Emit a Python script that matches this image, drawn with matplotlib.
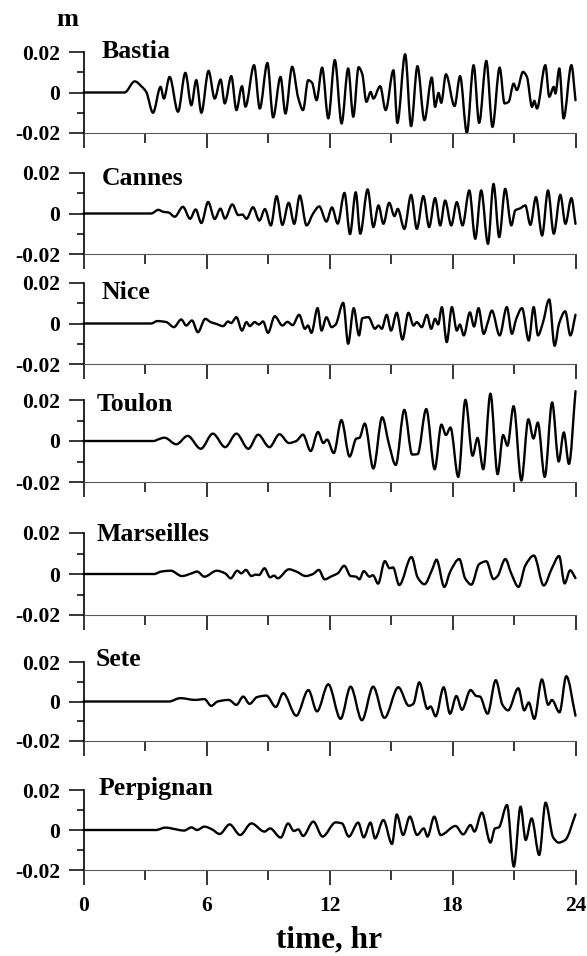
import numpy as np
import matplotlib
matplotlib.use('Agg')
import matplotlib.pyplot as plt
from matplotlib.path import Path
from matplotlib.patches import PathPatch

plt.rcParams['font.family'] = ['Liberation Serif', 'DejaVu Serif']
plt.rcParams['font.weight'] = 'bold'

# ---- data: (time [hr], sea level [mm]) ----
bastia = [(0, 0), (2.0, 0), (2.5, 5.5), (2.85, 2.8), (3.06, 0.3), (3.39, -10), (3.76, 2.8), (3.92, -3),
          (4.2, 7.7), (4.61, -9.5), (4.97, 9.7), (5.26, -6.3), (5.5, 6.1), (5.75, -10), (6.1, 10.7),
          (6.4, -3), (6.69, 6.4), (6.89, -5.4), (7.21, 8.1), (7.46, -8.7), (7.73, 3.1), (7.9, -7),
          (8.32, 13.5), (8.6, -7.9), (8.97, 14.6), (9.25, -12.3), (9.61, 7.7), (9.85, -10.4),
          (10.18, 12.7), (10.47, -2.5), (10.71, -8.7), (10.96, 6.1), (11.15, 4.8), (11.37, -3.8),
          (11.64, 12.3), (11.94, -12.8), (12.26, 16), (12.59, -15.3), (12.91, 11.9), (13.16, -12),
          (13.42, 12.5), (13.6, 9), (13.8, -4.6), (14.01, 0.3), (14.14, -3), (14.47, 3.1),
          (14.74, -8.7), (15.12, 11), (15.31, -15), (15.69, 18.9), (15.98, -16.6), (16.29, 13),
          (16.63, -13.7), (16.99, 7.4), (17.15, -7.1), (17.32, -0.2), (17.45, -5.1), (17.68, 9),
          (18.1, -6.7), (18.37, 8.1), (18.7, -19.9), (19.03, 13.5), (19.3, -15), (19.65, 15.6),
          (19.95, -17), (20.3, 12.3), (20.54, -5.4), (20.74, -4.6), (20.98, 4.4), (21.14, 1.2),
          (21.44, 10.2), (21.63, 7.7), (21.88, -7.1), (21.99, -4.1), (22.12, -7.9), (22.53, 13.5),
          (22.72, -2.1), (22.94, 2.8), (23.02, -0.5), (23.21, 11.9), (23.42, -12.8), (23.8, 13.5),
          (24.0, -3.8)]

cannes = [(0, 0), (3.3, 0), (3.65, 1.8), (3.9, 0.8), (4.15, 0.5), (4.45, -1.6), (4.85, 3.3), (5.2, -2.6),
          (5.47, 2), (5.75, -4.7), (6.08, 5.7), (6.4, -2.7), (6.68, 2.4), (6.9, -2.5), (7.26, 4.5),
          (7.55, -0.8), (7.75, -0.5), (7.95, -2.6), (8.27, 3.1), (8.58, -3.5), (8.85, 2.2), (9.14, -5.9),
          (9.42, 8.6), (9.7, -5.6), (10.01, 5.3), (10.28, -5.1), (10.55, 8.9), (10.88, -5.9), (11.2, 0),
          (11.5, 3.5), (11.85, -4), (12.12, 3), (12.4, -5), (12.73, 10.2), (13.0, -10.2), (13.28, 10.5),
          (13.5, -10), (13.86, 11.9), (14.14, -6.7), (14.39, 4), (14.63, -5.1), (14.91, 5.3),
          (15.17, -1.3), (15.33, 2.3), (15.65, -7.6), (15.98, 9.2), (16.26, -7.6), (16.58, 8.6),
          (16.86, -6.7), (17.15, 7.6), (17.4, -5.9), (17.64, 6.4), (17.94, -5.9), (18.21, 5.6),
          (18.49, -5.9), (18.82, 11.4), (19.11, -12.5), (19.4, 11.4), (19.73, -15), (20.0, 14.6),
          (20.28, -11.7), (20.57, 12.2), (20.87, -5.9), (21.06, 1.5), (21.31, 2.6), (21.55, 4),
          (21.8, -5.6), (22.07, 8.1), (22.37, -10.9), (22.66, 11.4), (22.94, -10), (23.26, 9.2),
          (23.51, -5.1), (23.8, 7.6), (24.0, -5.1)]

nice = [(0, 0), (3.3, 0), (3.6, 1.2), (4.04, 0.7), (4.41, -1.8), (4.77, 2), (5.01, -1), (5.29, 1.5),
        (5.58, -4.3), (5.94, 2.3), (6.2, 0.7), (6.48, -0.2), (6.81, -1.3), (7.05, 1), (7.2, 0.2),
        (7.46, 3.1), (7.73, -3.5), (7.95, 0.7), (8.11, -1.3), (8.35, 0.7), (8.55, -0.5), (8.76, 1),
        (9.0, -4.6), (9.33, 3.6), (9.7, -1), (9.95, 0.8), (10.2, -0.8), (10.52, 4.3), (10.8, -2.6),
        (10.95, -1), (11.12, -4.6), (11.42, 7.6), (11.61, -3.5), (11.85, 3.1), (12.1, -1.8),
        (12.3, -0.5), (12.67, 10.2), (12.91, -10), (13.18, 7.6), (13.44, -5.9), (13.6, 2.6),
        (13.9, 3.1), (14.22, -2.6), (14.39, -1), (14.55, -2.6), (14.79, 4.3), (15.0, -3.5),
        (15.28, 5.3), (15.56, -7.9), (15.85, 5.3), (16.1, -1), (16.26, 0.7), (16.5, -1.8),
        (16.75, 4.3), (16.96, -2.6), (17.15, 2.3), (17.3, -0.5), (17.48, 8.1), (17.72, -9.2),
        (17.97, 8.1), (18.21, -3.5), (18.36, -0.5), (18.55, -5.9), (18.85, 5.5), (19.05, -1.5),
        (19.27, 7.6), (19.52, -5.1), (19.72, 0.5), (19.92, 6.4), (20.3, -5.9), (20.65, 8.1),
        (20.9, -5.1), (21.1, 2), (21.39, 7.6), (21.72, -8.4), (21.96, 8.1), (22.17, -5.9), (22.4, 0),
        (22.72, 11.9), (22.98, -11), (23.2, 0), (23.5, 6), (23.75, -5.9), (24.0, 4.3)]

toulon = [(0, 0), (3.44, 0), (3.62, 0.7), (3.95, 1.6), (4.53, -1.6), (5.08, 2.5), (5.72, -3.8),
          (6.31, 3.6), (6.91, -3), (7.46, 3.6), (8.04, -3.8), (8.52, 3.1), (9.07, -3), (9.56, 3.3),
          (10.02, -1), (10.38, 0), (10.71, 3.1), (11.08, -4.9), (11.44, 4.4), (11.7, -1), (11.88, 0.7),
          (12.21, -5.9), (12.58, 10.2), (12.98, -7.6), (13.31, 1.2), (13.46, 1.5), (13.72, 8.5),
          (14.14, -13.4), (14.57, 11.6), (14.9, -1.5), (15.23, -11.7), (15.65, 15.2), (16.03, -6.6),
          (16.3, -6.4), (16.72, 15.6), (17.13, -13.8), (17.46, 8), (17.68, 2.9), (17.9, 6.6),
          (18.28, -17.5), (18.63, 20.1), (18.98, -7.2), (19.22, 1.5), (19.5, -13.8), (19.85, 23.1),
          (20.2, -16.2), (20.47, 2.9), (20.68, -2.3), (20.98, 17), (21.36, -19.3), (21.7, 10.6),
          (21.95, 1.2), (22.16, 9), (22.5, -17.5), (22.86, 18.8), (23.18, -10), (23.43, 4.2),
          (23.68, -11.2), (24.0, 24.3)]

marseilles = [(0, 0), (3.44, 0), (3.8, 1.2), (4.26, 1.6), (4.8, -1), (5.27, 0.3), (5.54, 1.2), (5.9, -1.3),
              (6.5, 1.6), (6.91, 0.3), (7.18, -2.1), (7.5, 1.6), (7.7, 0.3), (7.92, 2), (8.19, -1),
              (8.4, -0.3), (8.56, -0.5), (8.83, 2.8), (9.1, -1.6), (9.3, -0.8), (9.47, -2.1), (10.02, 2.3),
              (10.38, 1.2), (10.84, -1), (11.2, 0), (11.48, 2), (11.76, -2.6), (12.12, -1), (12.4, 0.3),
              (12.72, 4), (13.03, -1), (13.3, -1.3), (13.46, -2.6), (13.67, 1.4), (13.95, -1.3),
              (14.12, -0.6), (14.37, -4.7), (14.7, 6.3), (14.93, 2.8), (15.1, 3.2), (15.4, -5.4),
              (16.0, 8.3), (16.3, -1.7), (16.63, -5), (17.02, 2.5), (17.22, 7), (17.6, -6.3),
              (17.89, 1.2), (18.33, 7.3), (18.62, -2.2), (18.92, -5.2), (19.3, 4.8), (19.65, 6.2),
              (20.0, -2.5), (20.2, -1), (20.58, 7.3), (20.86, 0.4), (21.22, -6.3), (21.55, 4.1),
              (21.97, 9), (22.45, -5.6), (22.85, 2.8), (23.2, 8.8), (23.47, -4.6), (23.74, 1.8),
              (24.0, -2)]

sete = [(0, 0), (4.17, 0), (4.72, 1.7), (5.45, 0.8), (5.9, 1.2), (6.23, -2.2), (6.54, 0), (7.09, 0.8),
        (7.46, -1.7), (7.79, 2.5), (8.1, -1.2), (8.46, 2.2), (8.92, 3), (9.38, -2.8), (9.74, 4.2),
        (10.38, -7.2), (10.97, 5.8), (11.39, -5), (11.94, 8.7), (12.54, -8.8), (13.03, 7.5),
        (13.58, -9.5), (14.13, 7.5), (14.68, -8.3), (15.36, 7.2), (15.87, -2.2), (16.09, -1.2),
        (16.38, 9.7), (16.78, -3.8), (16.93, -2.5), (17.18, -7.5), (17.57, 7.2), (17.88, -6.2),
        (18.19, 2.8), (18.46, -4.2), (18.88, 5.8), (19.16, 2.8), (19.34, 2.5), (19.71, -6.2),
        (20.11, 10.8), (20.44, -1.7), (20.71, -4.5), (21.21, 6.7), (21.5, -4.5), (21.72, -0.5),
        (21.99, -8.8), (22.36, 11.2), (22.67, -1.7), (22.85, 0.8), (23.22, -5.5), (23.55, 12.8),
        (24.0, -7.2)]

perpignan = [(0, 0), (3.53, 0), (3.99, 1.2), (4.53, 0.3), (4.9, -0.3), (5.27, 1.3), (5.54, 0), (5.9, 1.7),
             (6.27, 0.3), (6.64, -2), (7.13, 2.8), (7.64, -2.5), (8.19, 3.3), (8.83, -0.8), (9.1, 0.8),
             (9.62, -3.8), (9.98, 3.3), (10.26, -0.5), (10.48, 0.3), (10.71, -3), (11.21, 4.2),
             (11.66, -3.3), (12.3, 3.8), (12.61, 3.3), (12.94, -3.3), (13.4, 3.7), (13.67, -3.7),
             (14.0, 3.7), (14.22, -4.2), (14.63, 5), (15.05, -7), (15.28, 7.8), (15.59, -2.5),
             (15.92, 6.7), (16.27, -2.5), (16.6, 0.8), (16.78, -3.3), (17.11, 6.7), (17.42, -2.5),
             (18.15, 2), (18.52, -2.2), (18.88, 2.5), (19.07, -0.8), (19.43, 8.7), (19.85, -6.3),
             (20.07, 0.8), (20.26, 1.3), (20.66, 12.5), (20.99, -18.3), (21.32, 11.7), (21.57, -5),
             (21.86, 5.8), (22.23, -12.5), (22.54, 13.7), (22.91, -3.7), (23.18, -6.3), (23.5, -5),
             (24.0, 7.8)]

station_names = ['Bastia', 'Cannes', 'Nice', 'Toulon', 'Marseilles', 'Sete', 'Perpignan']
station_series = [bastia, cannes, nice, toulon, marseilles, sete, perpignan]

time_ticks = [0, 6, 12, 18, 24]
time_tick_labels = ['0', '6', '12', '18', '24']
time_minor = [3, 9, 15, 21]
level_ticks = [-0.02, 0, 0.02]
level_tick_labels = ['-0.02', '0', '0.02']
level_minor = [-0.01, 0.01]


def smooth_path(x, y):
    """Monotone cubic (PCHIP-style) Bezier path through the read points."""
    n = len(x)
    h = np.diff(x)
    d = np.diff(y) / h
    m = np.zeros(n)
    m[0], m[-1] = d[0], d[-1]
    for k in range(1, n - 1):
        if d[k - 1] * d[k] > 0:
            w1 = 2 * h[k] + h[k - 1]
            w2 = h[k] + 2 * h[k - 1]
            m[k] = (w1 + w2) / (w1 / d[k - 1] + w2 / d[k])
    verts = [(x[0], y[0])]
    codes = [Path.MOVETO]
    for k in range(n - 1):
        verts += [(x[k] + h[k] / 3, y[k] + m[k] * h[k] / 3),
                  (x[k + 1] - h[k] / 3, y[k + 1] - m[k + 1] * h[k] / 3),
                  (x[k + 1], y[k + 1])]
        codes += [Path.CURVE4] * 3
    return Path(verts, codes)


# ---- layout ----
W, H = 587, 956
fig = plt.figure(figsize=(W / 100, H / 100), dpi=100)
panel_px = [(52, 133), (173, 254), (283, 364), (400, 482), (533, 615), (662, 741), (790, 870)]
label_pos = [(0.9, 0.020), (0.9, 0.0175), (0.9, 0.0155), (0.65, 0.018),
             (0.65, 0.0195), (0.6, 0.0215), (0.72, 0.021)]
x0, x1 = 83.5, 575.5

for i, (name, series) in enumerate(zip(station_names, station_series)):
    top, bot = panel_px[i]
    ax = fig.add_axes([x0 / W, 1 - bot / H, (x1 - x0) / W, (bot - top) / H])
    ax.patch.set_alpha(0)
    arr = np.array(series, dtype=float)
    path = smooth_path(arr[:, 0], arr[:, 1] / 1000.0)
    ax.add_patch(PathPatch(path, facecolor='none', edgecolor='black', lw=1.7,
                           joinstyle='round', capstyle='round', clip_on=False))
    ax.set_xlim(0, 24)
    ax.set_ylim(-0.02, 0.02)
    for s in ('top', 'right'):
        ax.spines[s].set_visible(False)
    ax.spines['left'].set_linewidth(1.2)
    ax.spines['bottom'].set_linewidth(0.8)
    ax.spines['bottom'].set_color('0.35')
    ax.set_xticks(time_ticks)
    ax.set_xticks(time_minor, minor=True)
    ax.set_yticks(level_ticks)
    ax.set_yticklabels(level_tick_labels)
    ax.set_yticks(level_minor, minor=True)
    ax.tick_params(axis='y', which='major', direction='out', length=11, width=1.1,
                   pad=6, labelsize=15.5)
    ax.tick_params(axis='y', which='minor', direction='out', length=5, width=1.1)
    ax.tick_params(axis='x', which='major', direction='out', length=11, width=1.1,
                   labelsize=15.5, pad=8)
    ax.tick_params(axis='x', which='minor', direction='out', length=7.5, width=1.1)
    if i < len(station_names) - 1:
        ax.tick_params(axis='x', labelbottom=False)
    else:
        ax.set_xticklabels(time_tick_labels)
    lx, ly = label_pos[i]
    ax.text(lx, ly, name, fontsize=18.5, fontweight='bold', va='center', ha='left')

fig.text(67.5 / W, 1 - 20 / H, 'm', fontsize=19, fontweight='bold', ha='center', va='center')
fig.text((x0 + x1) / 2 / W, 1 - 940 / H, 'time, hr', fontsize=22.5, fontweight='bold',
         ha='center', va='center')

fig.savefig('out.png', dpi=100)
